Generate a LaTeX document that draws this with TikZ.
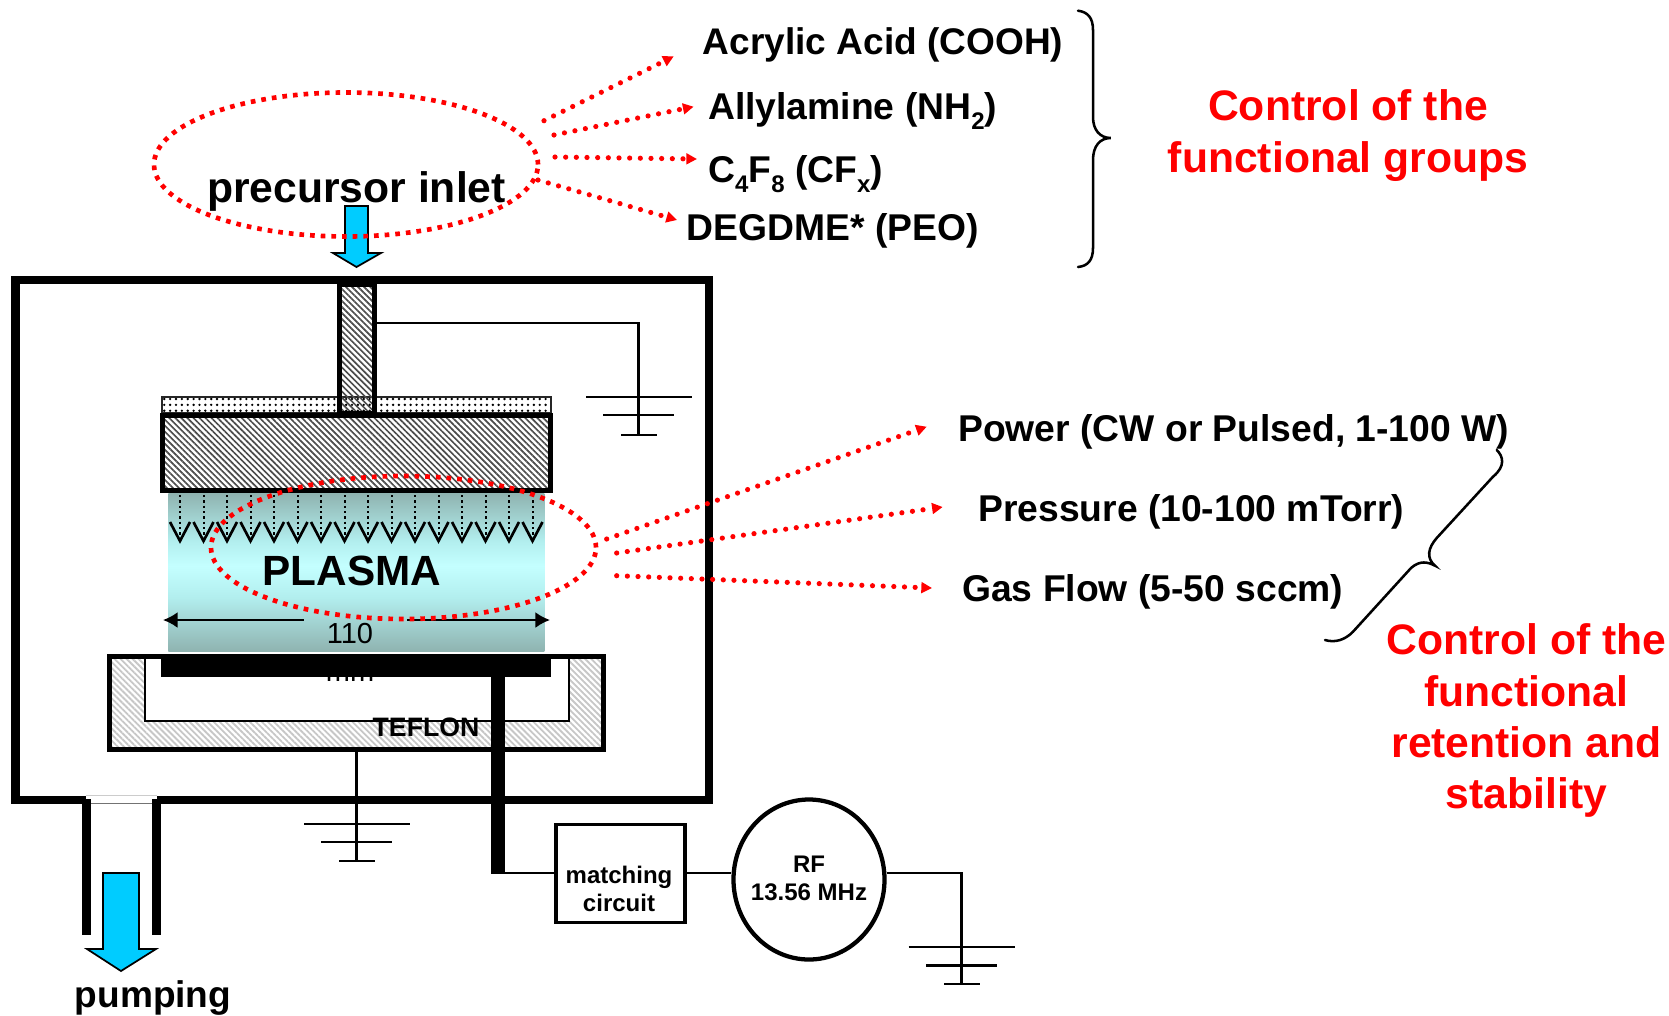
\documentclass[tikz,border=0pt]{standalone}
\usepackage{fontspec}
\setmainfont{Liberation Sans}
\usetikzlibrary{arrows.meta,shapes.geometric,patterns.meta}
\definecolor{pumpblue}{RGB}{0,204,255}
\definecolor{plasmaedge}{RGB}{143,179,176}
\definecolor{plasmacore}{RGB}{196,255,255}
\definecolor{plasmamid}{RGB}{178,238,238}
\definecolor{redline}{RGB}{255,0,0}
\pgfdeclareverticalshading{plasmaband}{100bp}{color(0bp)=(plasmaedge); color(25bp)=(plasmaedge); color(42bp)=(plasmamid); color(52bp)=(plasmacore); color(60bp)=(plasmamid); color(75bp)=(plasmaedge); color(100bp)=(plasmaedge)}
\tikzset{
  wall/.style={line width=6.4pt,line cap=butt},
  wire/.style={line width=2.2pt},
  gndbar/.style={line width=2pt},
  metal/.style={draw=black,line width=3.75pt,pattern={Lines[angle=-45,distance=3.2pt,line width=1.25pt]},pattern color=black!70},
  teflonfill/.style={draw=black,line width=3.75pt,pattern={Lines[angle=-45,distance=3.2pt,line width=1.4pt]},pattern color=black!22},
  dotfill/.style={draw=black!85,line width=1.1pt,pattern={Dots[distance=4.4pt,radius=1pt]},pattern color=black},
  ringred/.style={draw=redline,ellipse,inner sep=0pt,line width=3.5pt,dash pattern=on 3.5pt off 4.5pt},
  dotarrow/.style={redline,line width=3.9pt,line cap=round,dash pattern=on 0pt off 8pt,-{Triangle[length=8pt,width=8pt,line cap=butt,sep=0pt]}},
  flowarrow/.style={draw=black,line width=1.3pt,fill=pumpblue,line join=miter},
  label/.style={anchor=base west,inner sep=0pt,font=\bfseries\fontsize{27.95}{33}\selectfont},
  redlabel/.style={anchor=base,inner sep=0pt,align=center,text=redline,font=\bfseries\fontsize{32}{38.4}\selectfont},
  smalllabel/.style={inner sep=0pt,align=center,font=\bfseries\fontsize{18}{21}\selectfont},
  brace/.style={line width=1.9pt,line cap=round}
}
\newcommand{\lowidx}[1]{\raisebox{-0.28em}{\fontsize{18}{18}\selectfont #1}}
\begin{document}
\begin{tikzpicture}[x=0.75pt,y=-0.75pt]
\useasboundingbox (0,0) rectangle (1669,1015);

% ================= CHAMBER =================
\draw[wall] (15.5,280) rectangle (709,800);

% pumping port
\fill[white] (86,795) rectangle (157,804);
\draw[line width=0.8pt,black!20] (86,795.5) -- (157,795.5);
\draw[line width=0.8pt,black!55] (91,803.5) -- (152,803.5);
\draw[line width=6.6pt] (86.3,799) -- (86.3,935);
\draw[line width=6.6pt] (156.5,799) -- (156.5,935);

% ================= UPPER ELECTRODE =================
\draw[dotfill] (162,397) rectangle (551,413);
\draw[metal] (339.5,284) rectangle (374.5,413);
\draw[metal] (162.5,415.5) rectangle (550.5,490.5);

% ================= PLASMA =================
\node[anchor=north west,inner sep=0pt,minimum width=376*0.75pt,minimum height=158*0.75pt,
  shading=plasmaband] (plasma) at (168,493) {};

% gas jets
\foreach \x in {0,...,15} {
  \draw[line width=1.5pt,dash pattern=on 1.8pt off 2.2pt] (180+23.5*\x,495) -- (180+23.5*\x,538);
  \draw[line width=2pt] (170+23.5*\x,522) -- (180+23.5*\x,541) -- (190+23.5*\x,522);
}

\node[inner sep=0pt,anchor=base,font=\bfseries\fontsize{31.7}{38}\selectfont] (plasmatext) at (352,585.7) {PLASMA};

% ================= LOWER ELECTRODE =================
\draw[teflonfill] (109,656.5) rectangle (603,749.5);
\draw[fill=white,line width=1.5pt] (145,658) rectangle (568.5,721);
\node[inner sep=0pt,anchor=base,align=center,font=\fontsize{21.75}{28.5}\selectfont] (gap) at (350,681) {110\\mm};
\fill (161,654) rectangle (551.4,676.7);
\fill (491.3,676) rectangle (504.7,874);
\coordinate (gapleft) at (303.5,620);
\coordinate (gapright) at (407,620);
\coordinate (gapleftend) at (163,620);
\coordinate (gaprightend) at (550,620);
\draw[line width=1.6pt,-{Latex[length=11pt,width=12pt]}] (gapleft) -- (gapleftend);
\draw[line width=1.6pt,-{Latex[length=11pt,width=12pt]}] (gapright) -- (gaprightend);
\node[inner sep=0pt,anchor=base,font=\bfseries\fontsize{20}{24}\selectfont] (teflon) at (426,736) {TEFLON};

% ================= GROUNDS =================
\draw[wire] (377,323) -- (638.3,323) -- (638.3,435);
\draw[gndbar] (586,397) -- (692,397);
\draw[gndbar] (603,415) -- (674,415);
\draw[gndbar] (621,435) -- (657,435);

\draw[wire] (356.7,752) -- (356.7,861);
\draw[gndbar] (304,824) -- (410,824);
\draw[gndbar] (321,842) -- (392,842);
\draw[gndbar] (339,861) -- (375,861);

% ================= RF LINE =================
\node[draw,line width=2.4pt,minimum width=129*0.75pt,minimum height=98*0.75pt,inner sep=0pt] (matching) at (620.5,873.5) {};
\node[smalllabel] (matchingtext) at (619,888.5) {matching\\circuit};
\node[draw,ellipse,line width=3.2pt,minimum width=151*0.75pt,minimum height=160*0.75pt,inner sep=0pt] (rf) at (809,879.5) {};
\node[smalllabel] (rftext) at (809,878) {RF\\13.56 MHz};
\coordinate (feed) at (498,873);
\coordinate (rfout) at (961.4,873);
\coordinate (rfgnd) at (961.4,984);
\draw[wire] (feed) -- (matching.west |- feed);
\draw[wire] (matching.east |- feed) -- (rf.west |- feed);
\draw[wire] (rf.east |- feed) -- (rfout) -- (rfgnd);
\draw[gndbar] (908.6,947) -- (1015,947);
\draw[gndbar] (926,965.7) -- (997,965.7);
\draw[gndbar] (944,984) -- (980,984);

% ================= FLOW ARROWS =================
\draw[flowarrow] (345,206) -- (368,206) -- (368,253) -- (381,253) -- (356.5,267) -- (333,253) -- (345,253) -- cycle;
\draw[flowarrow] (103,873) -- (139,873) -- (139,949) -- (156,949) -- (121,971) -- (87,949) -- (103,949) -- cycle;

% ================= DOTTED RINGS =================
\node[ringred,minimum width=384*0.75pt,minimum height=144*0.75pt] (ringtop) at (346,164.5) {};
\node[ringred,minimum width=385*0.75pt,minimum height=143*0.75pt] (ringlow) at (403.5,547.5) {};

\node[inner sep=0pt,anchor=base,font=\bfseries\fontsize{32}{38}\selectfont] (inlet) at (356.5,202) {precursor inlet};
\node[inner sep=0pt,anchor=base,font=\bfseries\fontsize{27.8}{33}\selectfont] (pumping) at (153,1007) {pumping};

% ================= PRECURSORS =================
\node[label,font=\bfseries\fontsize{27.8}{33}\selectfont] (acrylic) at (702.5,54) {Acrylic Acid (COOH)};
\node[label] (allyl) at (708,119) {Allylamine (NH\lowidx{2})};
\node[label] (cff) at (708,182) {C\lowidx{4}F\lowidx{8} (CF\lowidx{x})};
\node[label] (degdme) at (686.5,240) {DEGDME* (PEO)};

\coordinate (a1) at (544,120.7);
\coordinate (a2) at (554,135);
\coordinate (a3) at (555,157);
\coordinate (a4) at (538,180);
\coordinate (t1) at (673.7,56.4);
\coordinate (t2) at (693.6,106.7);
\coordinate (t3) at (697,159);
\coordinate (t4) at (677,220);
\foreach \i in {1,2,3,4}
  \draw[dotarrow] (a\i) -- (t\i);

\draw[brace] (1078,10.7) .. controls (1088,12) and (1093,18) .. (1093,30) -- (1093,117)
  .. controls (1093,130) and (1100,138) .. (1110.7,138)
  .. controls (1100,138) and (1093,146) .. (1093,160) -- (1093,248)
  .. controls (1093,260) and (1088,266) .. (1078,267);

\node[redlabel] (ctrltop) at (1348,172) {Control of the\\functional groups};

% ================= PROCESS PARAMETERS =================
\node[label] (power) at (958,441) {Power (CW or Pulsed, 1-100 W)};
\node[label] (pressure) at (978,521.5) {Pressure (10-100 mTorr)};
\node[label] (flow) at (962,601.5) {Gas Flow (5-50 sccm)};

\coordinate (b1) at (606.7,539);
\coordinate (b2) at (616.7,553);
\coordinate (b3) at (616.7,575.7);
\coordinate (u1) at (926.7,426.7);
\coordinate (u2) at (942.7,507);
\coordinate (u3) at (932,588);
\foreach \i in {1,2,3}
  \draw[dotarrow] (b\i) -- (u\i);

\draw[brace] (1496.7,450) .. controls (1503,456) and (1506,466) .. (1493,476.7) -- (1436.7,538)
  .. controls (1428,548) and (1426,558) .. (1435,565.7)
  .. controls (1428,562) and (1420,560) .. (1411,568) -- (1353,631.7)
  .. controls (1345,640) and (1335,643) .. (1325,640);

\node[redlabel] (ctrllow) at (1526.5,808.5) {Control of the\\functional\\retention and\\stability};

\end{tikzpicture}
\end{document}
